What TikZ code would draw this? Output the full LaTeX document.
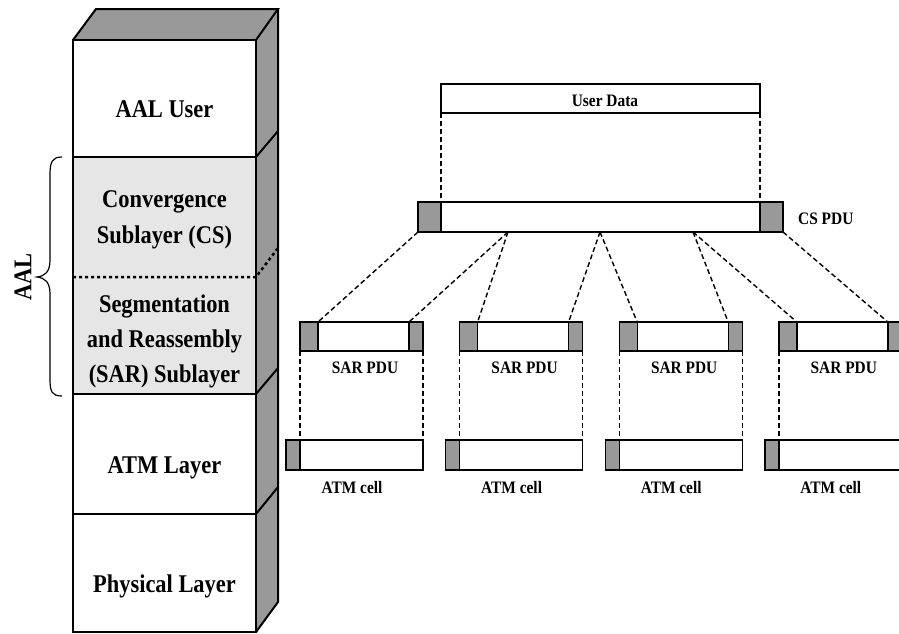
\documentclass[tikz,border=0pt]{standalone}
\usepackage{fontspec}
\newfontfamily\labfont{Liberation Serif}[FakeStretch=0.88]
\definecolor{hgray}{HTML}{999999}
\definecolor{lgray}{HTML}{E6E6E6}
\begin{document}
\begin{tikzpicture}[x=1pt,y=-1pt,
  big/.style={font=\labfont\bfseries\fontsize{25.5}{30}\selectfont, inner sep=0, anchor=base},
  small/.style={font=\labfont\bfseries\fontsize{17.5}{20}\selectfont, inner sep=0, anchor=base},
  stackline/.style={line width=2pt, line join=miter},
  layer/.style={draw, line width=2pt, minimum width=183pt, inner sep=0, outer sep=0},
  pbox/.style={draw, line width=1.4pt, inner sep=0, outer sep=0, fill=white},
  phead/.style={pbox, fill=hgray},
  conn/.style={dash pattern=on 5pt off 3pt, line width=1.4pt},
  dotline/.style={dash pattern=on 3pt off 3pt, line width=2.5pt}]
\useasboundingbox (0,0) rectangle (899,633);
% stack faces
\fill[hgray] (73,40) -- (96,9) -- (278,9) -- (256,40) -- cycle;
\fill[hgray] (256,40) -- (278,9) -- (278,602) -- (256,632) -- cycle;
\node[layer, fill=white, minimum height=117pt] (user) at (164.5,98.5) {};
\node[layer, fill=lgray, minimum height=237pt] (aal) at (164.5,275.5) {};
\node[layer, fill=white, minimum height=120pt] (atm) at (164.5,454) {};
\node[layer, fill=white, minimum height=118pt] (phy) at (164.5,573) {};
\draw[stackline] (user.north west) -- (96,9) -- (278,9) -- (user.north east);
\draw[stackline] (278,9) -- (278,602) -- (phy.south east);
\draw[stackline] (user.south east) -- (278,131);
\draw[stackline] (aal.south east) -- (278,368);
\draw[stackline] (atm.south east) -- (278,487);
\draw[dotline] (aal.west |- 0,277) -- (256,277) -- (278,248);
% stack texts
\node[big] (tuser) at (164.5,117) {AAL User};
\node[big] (tcs1) at (164.5,207) {Convergence};
\node[big] (tcs2) at (164.5,243) {Sublayer (CS)};
\node[big] (tseg1) at (164.5,312) {Segmentation};
\node[big] (tseg2) at (164.5,347) {and Reassembly};
\node[big] (tseg3) at (164.5,382) {(SAR) Sublayer};
\node[big] (tatm) at (164.5,473) {ATM Layer};
\node[big] (tphy) at (164.5,592) {Physical Layer};
% brace and AAL
\draw[line width=1.2pt] (62,157) .. controls (52,157) and (50,162) .. (50,175) -- (50,260)
  .. controls (50,272) and (45,276) .. (37,277) .. controls (45,278) and (50,282) .. (50,294)
  -- (50,379) .. controls (50,392) and (52,396) .. (62,396);
\node[big, rotate=90, anchor=center] (taal) at (23,277) {AAL};
% user data and CS PDU
\node[pbox, minimum width=319pt, minimum height=29pt] (ud) at (600.5,98.5) {};
\node[small] (tud) at (605,106) {User Data};
\node[pbox, minimum width=365pt, minimum height=30pt] (cs) at (600.5,217) {};
\node[phead, minimum width=23pt, minimum height=30pt] (csh) at (429.5,217) {};
\node[phead, minimum width=23pt, minimum height=30pt] (cst) at (771.5,217) {};
\node[small, anchor=base west] (tcs) at (798,224) {CS PDU};
\draw[conn] (ud.south west) -- (csh.north east);
\draw[conn] (ud.south east) -- (cst.north west);
% SAR PDUs and ATM cells
\foreach \i in {0,...,3}{
  \pgfmathsetmacro\L{300+159.6*\i}
  \node[pbox, minimum width=123pt, minimum height=29pt] (sar\i) at (\L+61.5,336.5) {};
  \node[phead, minimum width=18pt, minimum height=29pt] (sarh\i) at (\L+9,336.5) {};
  \node[phead, minimum width=14pt, minimum height=29pt] (sart\i) at (\L+116,336.5) {};
  \node[small] (tsar\i) at (\L+65,373) {SAR PDU};
  \node[pbox, minimum width=137pt, minimum height=30pt] (cell\i) at (\L+54.5,455) {};
  \node[phead, minimum width=14pt, minimum height=30pt] (cellh\i) at (\L-7,455) {};
  \node[small] (tcell\i) at (\L+52,493) {ATM cell};
  \draw[conn] (sar\i.south west) -- (cellh\i.north east);
  \draw[conn] (sar\i.south east) -- (cell\i.north east);
}
\coordinate (c1) at (508,232);
\coordinate (c2) at (600,232);
\coordinate (c3) at (693,232);
\draw[conn] (cs.south west) -- (sarh0.north east);
\draw[conn] (c1) -- (sart0.north west);
\draw[conn] (c1) -- (sarh1.north east);
\draw[conn] (c2) -- (sart1.north west);
\draw[conn] (c2) -- (sarh2.north east);
\draw[conn] (c3) -- (sart2.north west);
\draw[conn] (c3) -- (sarh3.north east);
\draw[conn] (cs.south east) -- (sart3.north west);
\end{tikzpicture}
\end{document}
